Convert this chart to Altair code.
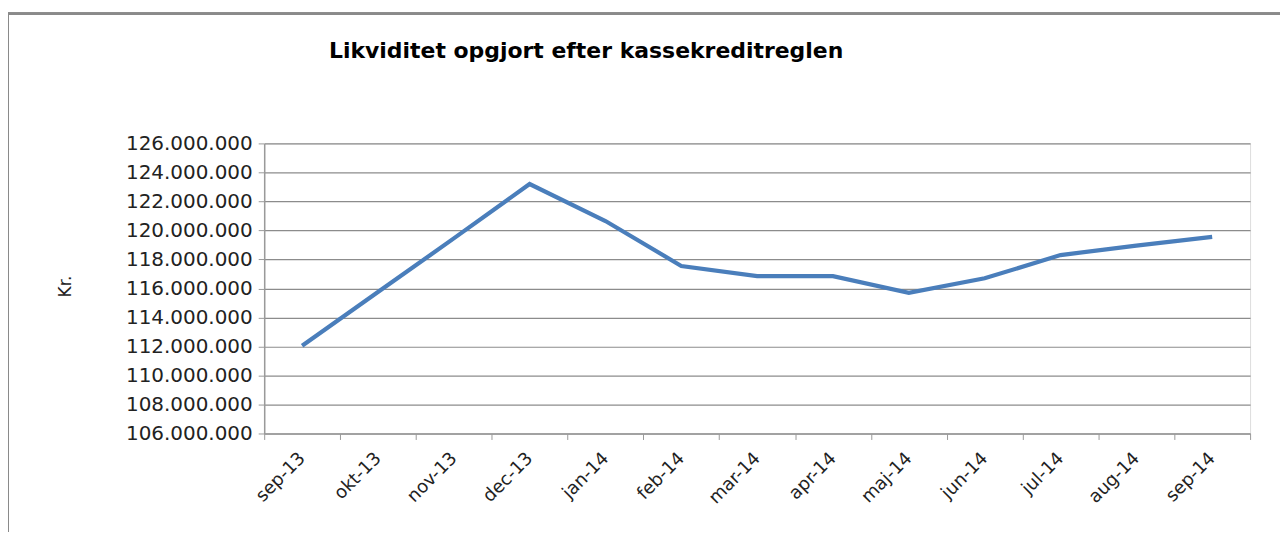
import altair as alt
import pandas as pd

months = ["sep-13", "okt-13", "nov-13", "dec-13", "jan-14", "feb-14", "mar-14",
          "apr-14", "maj-14", "jun-14", "jul-14", "aug-14", "sep-14"]
values = [112050000, 115750000, 119450000, 123200000, 120650000, 117550000, 116850000,
          116850000, 115700000, 116700000, 118300000, 118950000, 119550000]
y_ticks = [106000000, 108000000, 110000000, 112000000, 114000000, 116000000,
           118000000, 120000000, 122000000, 124000000, 126000000]

df = pd.DataFrame({"month": months, "value": values})

line = alt.Chart(df).mark_line(color="#4A7EBB", strokeWidth=4.2).encode(
    x=alt.X("month:N", sort=months, title=None,
            scale=alt.Scale(paddingInner=0, paddingOuter=0),
            axis=alt.Axis(labelAngle=-45, labelAlign="right", labelBaseline="middle",
                          labelFont="DejaVu Sans", labelFontSize=18, labelColor="#222222",
                          labelPadding=16, tickBand="extent", tickSize=6,
                          domainColor="#9a9a9a", tickColor="#9a9a9a", domainWidth=1.5,
                          grid=False)),
    y=alt.Y("value:Q", title="Kr.",
            scale=alt.Scale(domain=[106000000, 126000000], nice=False, zero=False),
            axis=alt.Axis(values=y_ticks, format=",.0f", labelFont="DejaVu Sans",
                          labelFontSize=20, labelColor="#222222", labelPadding=6,
                          tickSize=6, tickColor="#9a9a9a", domainColor="#9a9a9a",
                          domainWidth=1.5, gridColor="#8c8c8c", gridWidth=1.2,
                          titleFont="DejaVu Sans", titleFontSize=17, titleFontWeight="normal",
                          titleColor="#222222", titleAngle=-90, titleX=-190, titleY=143)),
)

frame = alt.Chart(df).mark_rect(fill=None, stroke="#8a8a8a", strokeWidth=2).encode(
    x=alt.value(-257), x2=alt.value(1040), y=alt.value(-130), y2=alt.value(430)
)

chart = alt.layer(frame, line).properties(
    width=989, height=291,
    padding={"left": 257, "top": 135, "right": 30, "bottom": 98},
    autosize=alt.AutoSizeParams(type="none"),
    title=alt.TitleParams("Likviditet opgjort  efter kassekreditreglen", anchor="start",
                          frame="group", dx=65, offset=-50, font="DejaVu Sans",
                          fontSize=22, fontWeight="bold", color="#000000"),
).configure_view(stroke=None).configure(
    numberFormat=",.0f",
    locale={"number": {"decimal": ",", "thousands": ".", "grouping": [3], "currency": ["", " kr."]}},
)

chart.save("out.html", embed_options={"renderer": "svg", "actions": False})
